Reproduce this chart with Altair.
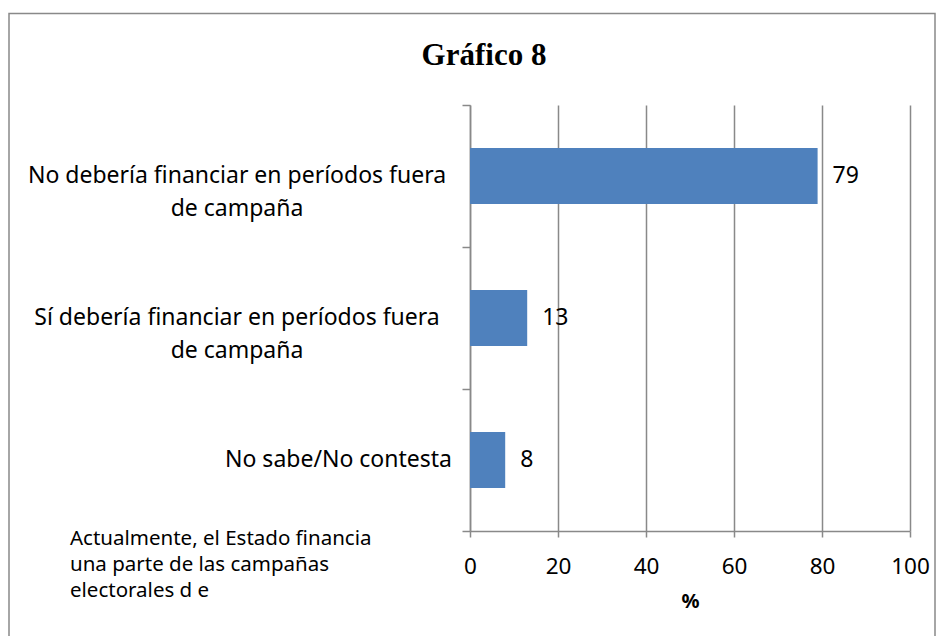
import altair as alt
import pandas as pd

# ---- data ----
categorias = [
    "No debería financiar en períodos fuera\nde campaña",
    "Sí debería financiar en períodos fuera\nde campaña",
    "No sabe/No contesta",
]
porcentajes = [79, 13, 8]
ticks_x = [0, 20, 40, 60, 80, 100]
titulo = "Gráfico 8"
titulo_eje_x = "%"
nota = ["Actualmente, el Estado financia", "una parte de las campañas", "electorales d e"]

df = pd.DataFrame({"categoria": categorias, "valor": porcentajes})

GRAY = "#898989"
FONT = "Noto Sans"
BLUE = "#4F81BD"

y_enc = alt.Y(
    "categoria:N",
    sort=categorias,
    scale=alt.Scale(paddingInner=0, paddingOuter=0),
    axis=alt.Axis(
        labels=False, title=None, tickBand="extent", grid=False,
        domainColor=GRAY, domainWidth=1.5, tickColor=GRAY, tickWidth=1.5, tickSize=8,
    ),
)
x_enc = alt.X(
    "valor:Q",
    scale=alt.Scale(domain=[0, 100], nice=False),
    axis=alt.Axis(
        values=ticks_x, title=titulo_eje_x, grid=True, gridColor=GRAY, gridWidth=1.5,
        domainColor=GRAY, domainWidth=1.5, tickColor=GRAY, tickWidth=1.5, tickSize=6,
        labelFont=FONT, labelFontSize=22.5, labelColor="black", labelPadding=18,
        labelFlush=False,
        titleFont=FONT, titleFontSize=20, titleFontWeight="bold", titleColor="black",
        titlePadding=14,
    ),
)

base = alt.Chart(df)

bars = base.mark_bar(size=56, color=BLUE).encode(x=x_enc, y=y_enc)

valores = base.mark_text(
    align="left", baseline="middle", dx=15, fontSize=23, font=FONT, color="black"
).encode(x="valor:Q", y=alt.Y("categoria:N", sort=categorias), text="valor:Q")

etiquetas_largas = base.transform_filter(
    "indexof(datum.categoria, '\\n') >= 0"
).mark_text(
    align="center", baseline="middle", lineBreak="\n", lineHeight=33,
    fontSize=23, font=FONT, color="black",
).encode(y=alt.Y("categoria:N", sort=categorias), x=alt.value(-233), text="categoria:N")

etiquetas_cortas = base.transform_filter(
    "indexof(datum.categoria, '\\n') < 0"
).mark_text(
    align="right", baseline="middle", fontSize=23, font=FONT, color="black",
).encode(y=alt.Y("categoria:N", sort=categorias), x=alt.value(-18), text="categoria:N")

deco = alt.Chart(alt.Data(values=[{}]))

borde = deco.mark_rect(fillOpacity=0, stroke=GRAY, strokeWidth=1.5).encode(
    x=alt.value(-461), x2=alt.value(465), y=alt.value(-91.5), y2=alt.value(545)
)

titulo_txt = deco.mark_text(
    align="center", baseline="alphabetic", font="Liberation Serif",
    fontWeight="bold", fontSize=31, color="black",
).encode(x=alt.value(14), y=alt.value(-40), text=alt.value(titulo))

nota_txt = deco.mark_text(
    align="left", baseline="alphabetic", lineHeight=26, fontSize=20.5, font=FONT, color="black",
).encode(x=alt.value(-400), y=alt.value(440), text=alt.value(nota))

chart = alt.layer(
    borde, bars, valores, etiquetas_largas, etiquetas_cortas, titulo_txt, nota_txt
).properties(
    width=440,
    height=426,
    autosize=alt.AutoSizeParams(type="none"),
    padding={"left": 462, "top": 97, "right": 26, "bottom": 105},
    background="white",
).configure_view(stroke=None)

chart.save("out.html", embed_options={"renderer": "svg", "actions": False})
